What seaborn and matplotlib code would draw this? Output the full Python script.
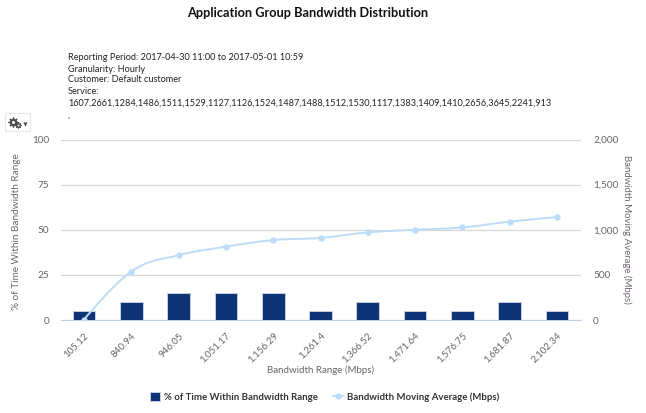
import matplotlib
matplotlib.use("Agg")
import matplotlib.pyplot as plt
from matplotlib.path import Path
from matplotlib.patches import PathPatch, Rectangle, Patch
from matplotlib.lines import Line2D
from matplotlib.ticker import FixedLocator, FuncFormatter
import numpy as np
import pandas as pd
import seaborn as sns

ranges = ["105.12", "840.94", "946.05", "1,051.17", "1,156.29", "1,261.4",
          "1,366.52", "1,471.64", "1,576.75", "1,681.87", "2,102.34"]
pct_time = [5, 10, 15, 15, 15, 5, 10, 5, 5, 10, 5]
moving_avg = [5, 537, 718, 812, 885, 910, 970, 1000, 1025, 1090, 1140]
title = "Application Group Bandwidth Distribution"
info_lines = ["Reporting Period: 2017-04-30 11:00 to 2017-05-01 10:59",
              "Granularity: Hourly",
              "Customer: Default customer",
              "Service:",
              "1607,2661,1284,1486,1511,1529,1127,1126,1524,1487,1488,1512,1530,1117,1383,1409,1410,2656,3645,2241,913",
              ","]
bar_name = "% of Time Within Bandwidth Range"
line_name = "Bandwidth Moving Average (Mbps)"
x_name = "Bandwidth Range (Mbps)"

NAVY = "#0f3375"
LIGHT = "#bcdcf8"
AXC = "#c0d0e0"
GRID = "#d8d8d8"
TXT = "#666666"

sns.set_theme(style="white")
plt.rcParams["font.family"] = ["Lato", "DejaVu Sans"]
W, H = 646, 413
fig = plt.figure(figsize=(W / 100, H / 100), dpi=100, facecolor="white")
L, R, T, B = 60.5, 580.5, 139.5, 320.0
ax = fig.add_axes([L / W, 1 - B / H, (R - L) / W, (B - T) / H])

df = pd.DataFrame({"range": ranges, "pct": pct_time, "avg": moving_avg})
sns.barplot(data=df, x="range", y="pct", ax=ax, color=NAVY, saturation=1,
            width=0.48, edgecolor="#c3cfe0", linewidth=0.7, zorder=3)
ax.set_xlim(-0.5, len(ranges) - 0.5)
ax.set_ylim(0, 100)
ax.set_yticks([0, 25, 50, 75, 100])
ax.yaxis.grid(True, color=GRID, linewidth=0.9)
ax.set_axisbelow(True)
ax.tick_params(axis="y", length=0, pad=8, labelsize=7.2, labelcolor=TXT)
ax.set_xticks(range(len(ranges)))
ax.set_xticklabels(ranges, rotation=45, ha="right", rotation_mode="anchor",
                   fontsize=7, color=TXT)
ax.tick_params(axis="x", which="major", length=0, pad=8)
ax.xaxis.set_minor_locator(FixedLocator(np.arange(-0.5, len(ranges))))
ax.tick_params(axis="x", which="minor", length=5, width=0.8, color=AXC)
for s in ["top", "left", "right"]:
    ax.spines[s].set_visible(False)
ax.spines["bottom"].set_color(AXC)
ax.spines["bottom"].set_linewidth(0.8)
ax.set_xlabel(x_name, fontsize=7, color=TXT)
ax.xaxis.set_label_coords(0.5, (B - 370) / (B - T), )
ax.xaxis.label.set_va("center")
ax.set_ylabel(bar_name, fontsize=7.2, color="#6f6670")
ax.yaxis.set_label_coords((21 - L) / (R - L), 0.49)

ax2 = ax.twinx()
ax2.set_ylim(0, 2000)
ax2.set_yticks([0, 500, 1000, 1500, 2000])
ax2.yaxis.set_major_formatter(FuncFormatter(lambda v, _: f"{int(v):,}"))
ax2.tick_params(axis="y", length=0, pad=9, labelsize=7.2, labelcolor=TXT)
for s in ax2.spines.values():
    s.set_visible(False)
sns.lineplot(data=df, x=np.arange(len(ranges)), y="avg", ax=ax2, color=LIGHT,
             linestyle="", marker="o", markersize=4.6, markeredgewidth=0,
             legend=False, zorder=5)
ax2.set_ylabel(line_name, fontsize=6.9, color="#6f6670", rotation=270, va="center")
ax2.yaxis.set_label_coords((627 - L) / (R - L), 0.5)

# Spline through the data, as the source chart's smoothed line
xs = np.arange(len(moving_avg), dtype=float)
ys = np.asarray(moving_avg, dtype=float)
verts, codes = [(xs[0], ys[0])], [Path.MOVETO]
n = len(xs)
for i in range(n - 1):
    c1 = (xs[i], ys[i]) if i == 0 else (xs[i] + 0.4, ys[i] + (ys[i + 1] - ys[i - 1]) / 5)
    c2 = (xs[i + 1], ys[i + 1]) if i == n - 2 else (xs[i + 1] - 0.4, ys[i + 1] - (ys[i + 2] - ys[i]) / 5)
    verts += [c1, c2, (xs[i + 1], ys[i + 1])]
    codes += [Path.CURVE4] * 3
ax2.add_patch(PathPatch(Path(verts, codes), fc="none", ec=LIGHT, lw=1.4, zorder=4))

fig.text(308 / W, 1 - 13 / H, title, ha="center", va="center", fontsize=9.2,
         fontweight="bold", color="#111111")
ys_txt = [58, 69, 80, 91, 103, 116]
for line, y in zip(info_lines, ys_txt):
    fig.text(68 / W, 1 - y / H, line, ha="left", va="center", fontsize=6.6, color="#222222")

# Gear menu button, drawn from star markers
fig.add_artist(Rectangle((4.5 / W, 1 - 131 / H), 25 / W, 18 / H, transform=fig.transFigure,
                         fc="white", ec="#e8e8e8", lw=0.8))
for gx, gy, gs, hs in [(13, 121.5, 7.5, 2.2), (18, 125, 4.5, 1.4)]:
    fig.add_artist(Line2D([gx / W], [1 - gy / H], transform=fig.transFigure, marker=(8, 1, 0),
                          ms=gs, mfc="#4a4a4a", mec="#4a4a4a", mew=0.6, ls=""))
    fig.add_artist(Line2D([gx / W], [1 - gy / H], transform=fig.transFigure, marker="o",
                          ms=hs, mfc="white", mew=0, ls=""))
fig.add_artist(Line2D([24.5 / W], [1 - 124 / H], transform=fig.transFigure, marker="v",
                      ms=3, mfc="#4a4a4a", mew=0, ls=""))

handles = [Patch(fc=NAVY, ec="#c3cfe0", lw=0.7, label=bar_name),
           Line2D([], [], color=LIGHT, lw=1.4, marker="o", ms=4.6, mew=0, label=line_name)]
fig.legend(handles=handles, loc="center", bbox_to_anchor=(324.5 / W, 1 - 397 / H), ncol=2,
           frameon=False, prop={"size": 6.9, "weight": "bold"}, labelcolor="#333333",
           handlelength=1.05, handleheight=1.05, handletextpad=0.42, columnspacing=1.6, borderpad=0)

fig.savefig("out.png", dpi=100, facecolor="white")
